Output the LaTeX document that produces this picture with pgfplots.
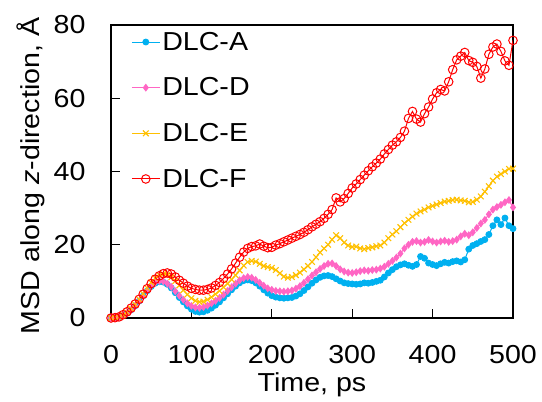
\documentclass[border=0pt]{standalone}
\usepackage{fontspec}
\setmainfont[FakeStretch=1.1]{Liberation Sans}
\usepackage{pgfplots}
\pgfplotsset{compat=1.18}
\definecolor{cA}{RGB}{0,176,240}
\definecolor{cD}{RGB}{255,102,196}
\definecolor{cE}{RGB}{255,192,0}
\definecolor{cF}{RGB}{255,0,0}
\newcommand\fs{\fontsize{26}{31}\selectfont}
\begin{document}
\begin{tikzpicture}[x=1pt,y=1pt]
\path[use as bounding box] (-111,-84) rectangle (431,318);
\begin{axis}[
  at={(0,0)}, anchor=south west,
  scale only axis, width=402pt, height=293pt,
  xmin=0, xmax=500, ymin=0, ymax=80,
  xtick={0,100,200,300,400,500}, ytick={0,20,40,60,80},
  tick pos=left, tick align=inside, major tick length=9pt,
  axis line style={line width=1.4pt}, tick style={line width=1.2pt, black},
  /pgf/number format/assume math mode=true,
  tick label style={font=\fs},
  xticklabel shift=24pt, yticklabel shift=22pt,
  xlabel={Time, ps}, ylabel={MSD along \textit{z}-direction, Å},
  every axis x label/.style={at={(axis description cs:0.5,0)}, yshift=-67pt, anchor=center, font=\fs},
  every axis y label/.style={at={(axis description cs:0,0.485)}, xshift=-80pt, rotate=90, anchor=center, font=\fs},
  legend style={draw=none, fill=none, font=\fs, at={(0.05,0.983)}, anchor=north west, row sep=22pt, inner sep=0pt},
  legend cell align=left,
  legend image code/.code={\draw[mark repeat=2,mark phase=2] plot coordinates {(0pt,0pt) (14pt,0pt) (28pt,0pt)};},
]
\addplot[color=cA, line width=1pt, mark=*, mark size=2.9pt] coordinates {
(0,0) (5,0.1) (10,0.3) (15,0.7) (20,1.3) (25,2.2) (30,3.3) (35,4.6) (40,6.0) (45,7.4) (50,8.6) (55,9.5) (60,9.9) (65,9.8) (70,9.2) (75,8.2) (80,6.9) (85,5.6) (90,4.4) (95,3.3) (100,2.4) (105,1.8) (110,1.6) (115,1.7) (120,2.1) (125,2.7) (130,3.5) (135,4.4) (140,5.5) (145,6.6) (150,7.7) (155,8.7) (160,9.6) (165,10.2) (170,10.4) (175,10.2) (180,9.6) (185,8.7) (190,7.7) (195,6.8) (200,6.1) (205,5.7) (210,5.5) (215,5.4) (220,5.5) (225,5.6) (230,6.0) (235,6.6) (240,7.5) (245,8.5) (250,9.5) (255,10.4) (260,11.1) (265,11.5) (270,11.6) (275,11.3) (280,10.7) (285,10.1) (290,9.6) (295,9.4) (300,9.3) (305,9.2) (310,9.3) (315,9.6) (320,9.5) (325,9.7) (330,10.0) (335,10.3) (340,11.2) (345,12.3) (350,13.2) (355,14.0) (360,14.5) (365,14.8) (370,14.4) (375,14.1) (380,14.6) (385,16.8) (390,16.3) (395,15.0) (400,14.6) (405,14.3) (410,14.8) (415,15.2) (420,15.0) (425,15.4) (430,15.6) (435,15.3) (440,15.9) (445,18.8) (450,19.8) (455,20.3) (460,20.9) (465,21.4) (470,22.8) (475,25.2) (480,26.8) (485,25.5) (490,27.3) (495,25.2) (500,24.4)
};
\addlegendentry{DLC-A}
\addplot[color=cD, line width=1pt, mark=diamond*, mark size=3.2pt] coordinates {
(0,0) (5,0.1) (10,0.3) (15,0.7) (20,1.3) (25,2.2) (30,3.3) (35,4.6) (40,6.0) (45,7.5) (50,8.8) (55,9.7) (60,10.1) (65,10.0) (70,9.4) (75,8.5) (80,7.3) (85,6.1) (90,5.0) (95,4.0) (100,3.3) (105,2.9) (110,2.8) (115,3.0) (120,3.4) (125,4.0) (130,4.7) (135,5.5) (140,6.4) (145,7.4) (150,8.4) (155,9.4) (160,10.3) (165,10.9) (170,11.2) (175,11.0) (180,10.4) (185,9.6) (190,8.8) (195,8.1) (200,7.7) (205,7.4) (210,7.3) (215,7.2) (220,7.3) (225,7.5) (230,8.0) (235,8.7) (240,9.6) (245,10.6) (250,11.6) (255,12.5) (260,13.4) (265,14.2) (270,14.8) (275,14.9) (280,14.2) (285,13.3) (290,12.7) (295,12.4) (300,12.3) (305,12.5) (310,12.8) (315,13.0) (320,12.9) (325,13.1) (330,13.2) (335,13.5) (340,14.0) (345,14.8) (350,15.6) (355,16.5) (360,17.6) (365,19.0) (370,20.0) (375,20.8) (380,21.0) (385,20.6) (390,20.8) (395,21.3) (400,20.9) (405,20.6) (410,20.9) (415,21.1) (420,20.8) (425,21.0) (430,21.4) (435,22.3) (440,23.0) (445,22.6) (450,23.4) (455,24.6) (460,25.8) (465,26.8) (470,28.3) (475,29.6) (480,30.3) (485,30.9) (490,31.6) (495,32.2) (500,30.2)
};
\addlegendentry{DLC-D}
\addplot[color=cE, line width=1pt, mark=x, mark size=4pt, mark options={line width=1.1pt}] coordinates {
(0,0) (5,0.1) (10,0.3) (15,0.8) (20,1.5) (25,2.5) (30,3.7) (35,5.1) (40,6.6) (45,8.2) (50,9.7) (55,10.9) (60,11.7) (65,12.0) (70,11.8) (75,11.1) (80,10.1) (85,8.9) (90,7.6) (95,6.4) (100,5.4) (105,4.7) (110,4.4) (115,4.5) (120,5.0) (125,5.7) (130,6.5) (135,7.4) (140,8.4) (145,9.4) (150,10.5) (155,11.7) (160,13.0) (165,14.3) (170,15.3) (175,15.6) (180,15.4) (185,14.8) (190,14.2) (195,13.9) (200,13.7) (205,13.1) (210,12.2) (215,11.3) (220,11.0) (225,11.2) (230,11.7) (235,12.4) (240,13.3) (245,14.2) (250,15.3) (255,16.6) (260,17.9) (265,19.0) (270,20.0) (275,21.4) (280,22.6) (285,21.8) (290,20.6) (295,19.8) (300,19.4) (305,19.5) (310,19.0) (315,18.8) (320,19.1) (325,19.3) (330,19.6) (335,19.8) (340,20.6) (345,21.8) (350,22.8) (355,23.7) (360,24.8) (365,25.9) (370,26.8) (375,27.7) (380,28.5) (385,29.1) (390,29.6) (395,30.2) (400,30.6) (405,31.0) (410,31.4) (415,31.8) (420,32.0) (425,32.2) (430,32.3) (435,32.1) (440,32.0) (445,31.6) (450,31.7) (455,32.3) (460,33.2) (465,34.5) (470,36.0) (475,37.5) (480,38.6) (485,39.3) (490,40.0) (495,40.7) (500,40.8)
};
\addlegendentry{DLC-E}
\addplot[color=cF, line width=1pt, mark=o, mark size=4.3pt, mark options={line width=1pt}] coordinates {
(0,0) (5,0.1) (10,0.3) (15,0.9) (20,1.7) (25,2.7) (30,3.8) (35,5.1) (40,6.5) (45,8.0) (50,9.4) (55,10.6) (60,11.5) (65,12.1) (70,12.3) (75,12.0) (80,11.2) (85,10.3) (90,9.5) (95,8.7) (100,8.1) (105,7.8) (110,7.6) (115,7.6) (120,7.8) (125,8.2) (130,8.9) (135,9.7) (140,10.8) (145,12.0) (150,13.4) (155,15.0) (160,16.6) (165,18.0) (170,19.0) (175,19.5) (180,19.7) (185,20.2) (190,19.6) (195,19.2) (200,19.3) (205,19.9) (210,20.3) (215,20.8) (220,21.3) (225,21.8) (230,22.3) (235,22.8) (240,23.4) (245,24.1) (250,24.9) (255,25.6) (260,26.3) (265,27.2) (270,28.3) (275,29.6) (280,32.8) (285,31.7) (290,32.6) (295,34.0) (300,35.5) (305,36.6) (310,37.8) (315,39.0) (320,40.2) (325,41.3) (330,42.3) (335,43.4) (340,44.8) (345,46.0) (350,47.2) (355,48.1) (360,49.3) (365,51.0) (370,54.5) (375,56.4) (380,54.3) (385,53.5) (390,55.8) (395,57.6) (400,59.8) (405,61.5) (410,62.4) (415,62.0) (420,64.5) (425,67.8) (430,70.5) (435,71.5) (440,72.5) (445,70.3) (450,69.8) (455,68.7) (460,65.5) (465,68.0) (470,72.0) (475,74.0) (480,74.8) (485,72.8) (490,70.2) (495,69.0) (500,75.8)
};
\addlegendentry{DLC-F}
\end{axis}
\end{tikzpicture}
\end{document}
